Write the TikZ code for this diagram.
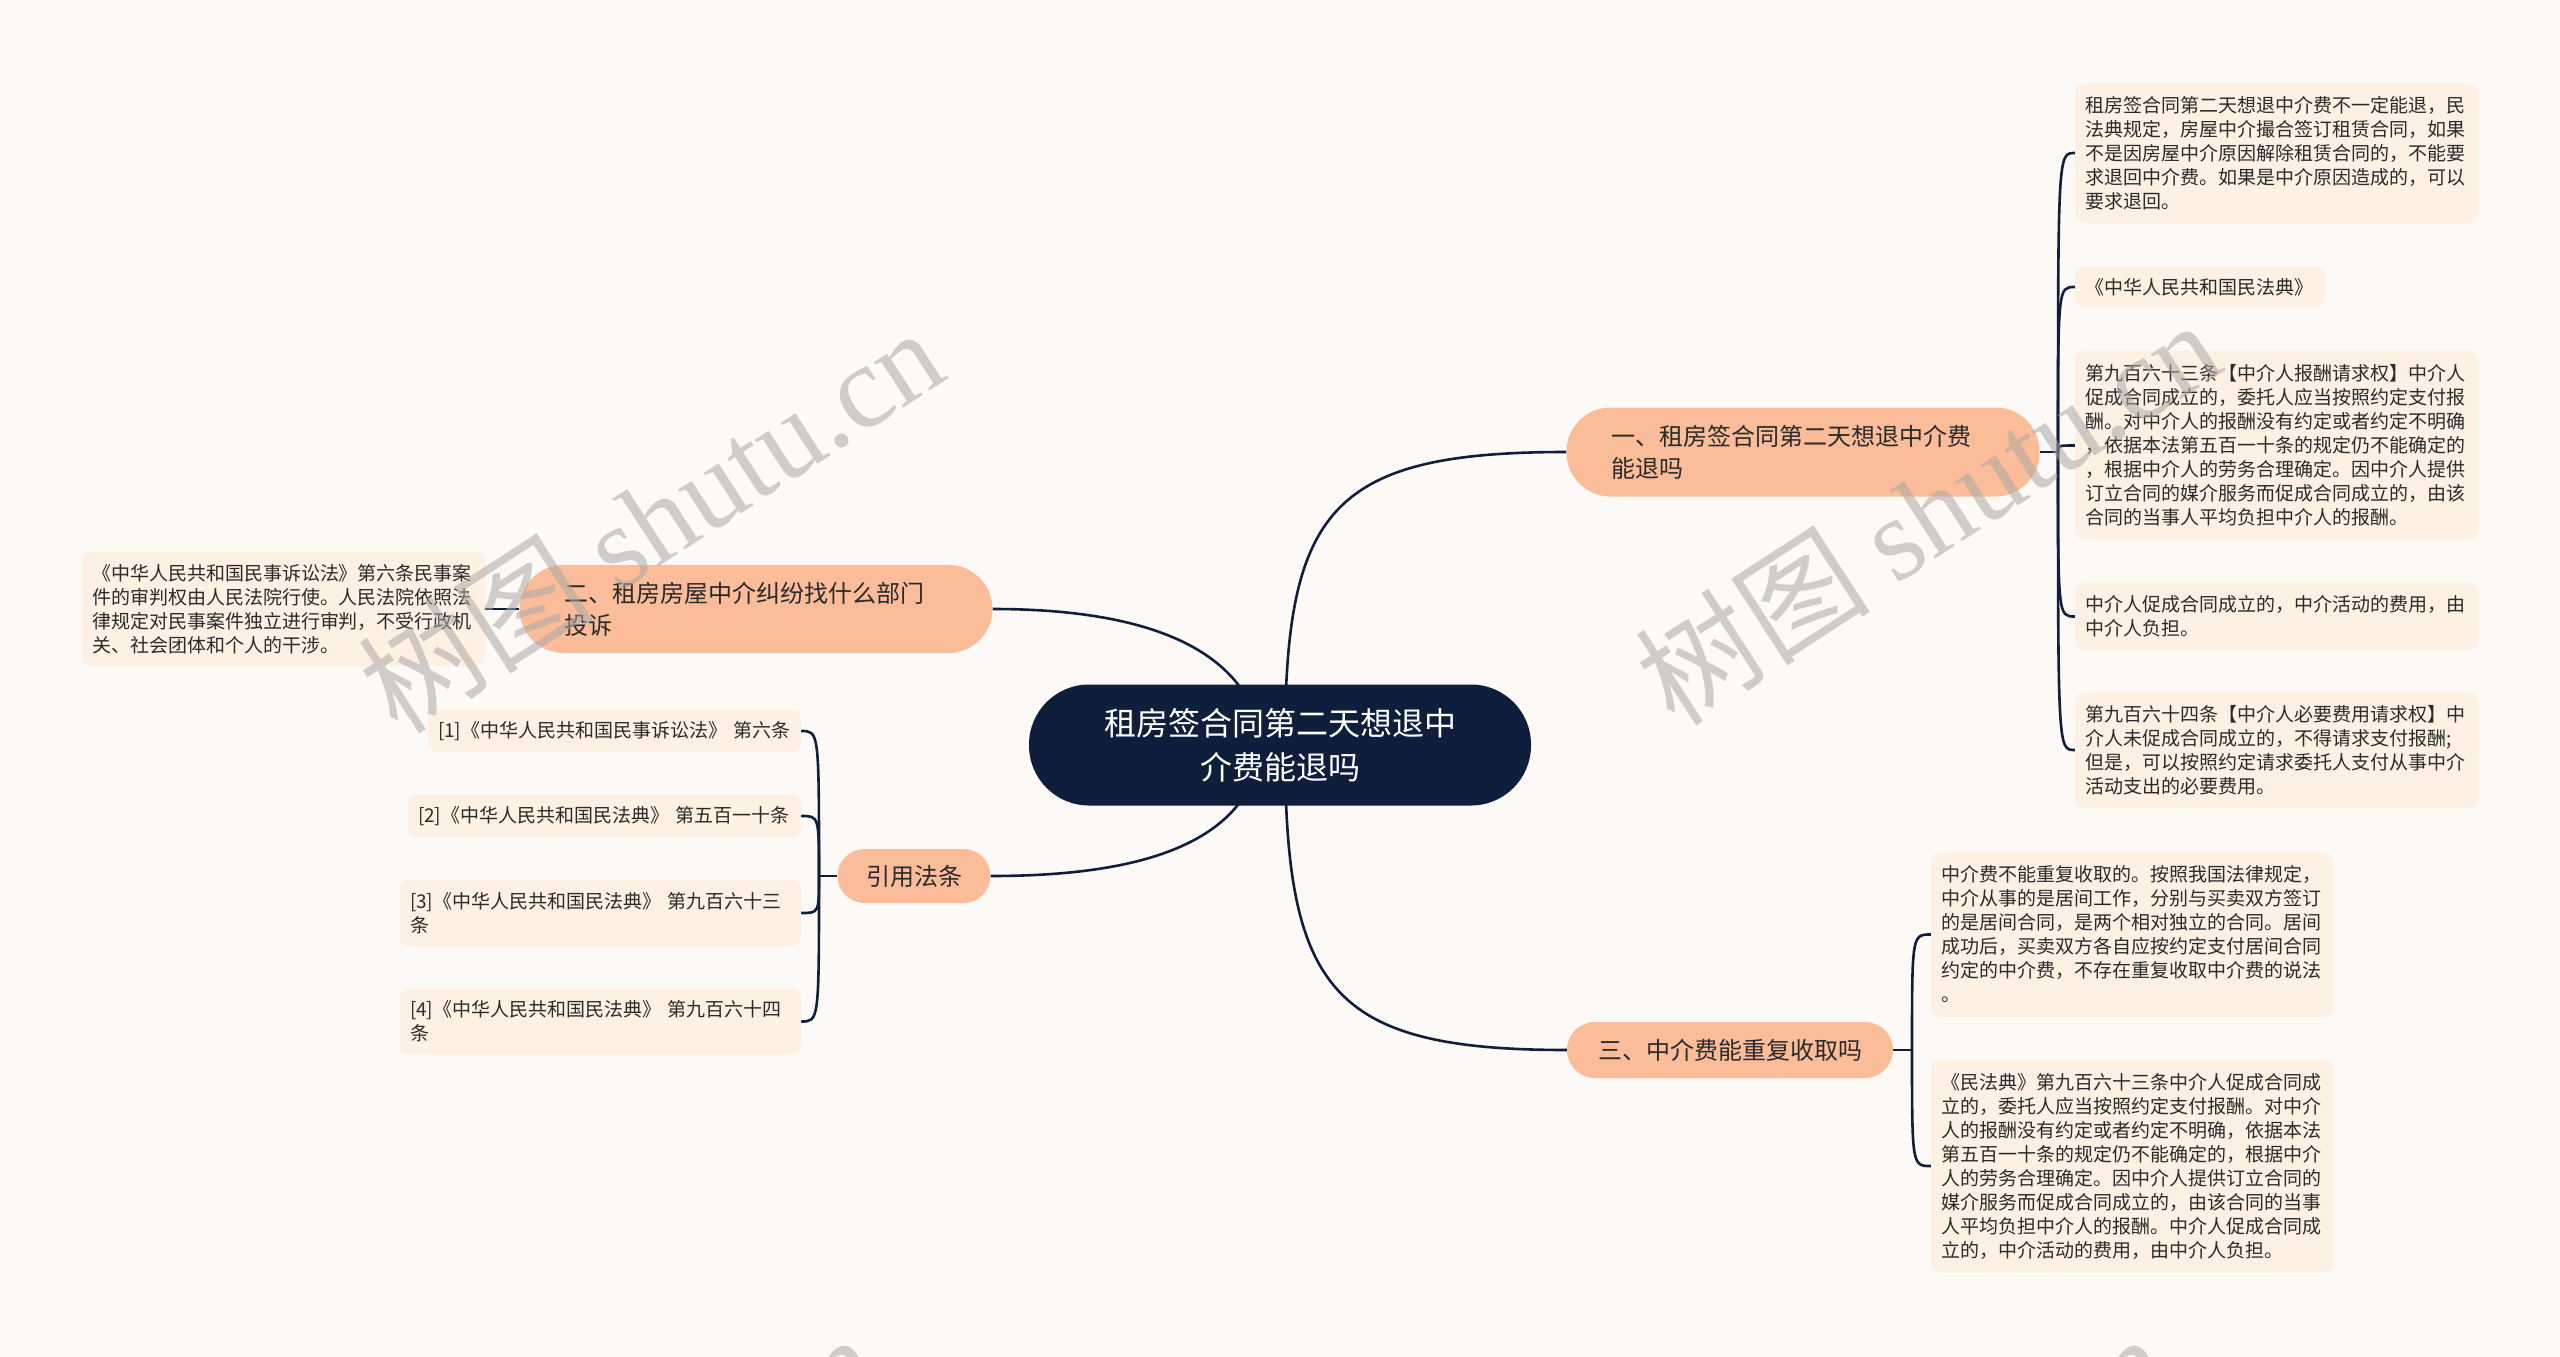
\documentclass[tikz,border=0pt]{standalone}
\usepackage{fontspec}
\setmainfont{Noto Sans CJK SC}
\newfontfamily\wmserif{Liberation Serif}
\usetikzlibrary{backgrounds}
\definecolor{bgc}{HTML}{FDF9F7}
\definecolor{navy}{HTML}{0F1F3B}
\definecolor{peach}{HTML}{FBBC9A}
\definecolor{cream}{HTML}{FEF0E2}
\definecolor{txt}{HTML}{2A2A2A}
\definecolor{wmgray}{HTML}{ABA8A6}
\begin{document}
\begin{tikzpicture}[x=1pt,y=-1pt,
  conn/.style={draw=navy, line width=2.6pt},
  rootbox/.style={fill=navy, rounded corners=60pt, text=white, font=\fontsize{32}{44}\selectfont, align=center, inner sep=0pt, minimum width=502pt, minimum height=121pt},
  branchbox/.style={fill=peach, text=txt, font=\fontsize{24}{32}\selectfont, inner sep=0pt},
  leafbox/.style={fill=cream, rounded corners=9pt, text=txt, font=\fontsize{19}{24}\selectfont, align=left, inner sep=0pt},
  wm/.style={rotate=33, text=wmgray, text opacity=0.55, font=\fontsize{118}{118}\selectfont, inner sep=0pt}
]
\useasboundingbox (0,0) rectangle (2560,1357);

% root
\node[rootbox] (root) at (1280,745) {租房签合同第二天想退中\\介费能退吗};

% branches
\node[branchbox, rounded corners=44pt, minimum width=473pt, minimum height=89pt, text width=383pt, align=left] (b1) at (1803,452) {一、租房签合同第二天想退中介费\\能退吗};
\node[branchbox, rounded corners=44pt, minimum width=473pt, minimum height=88pt, text width=383pt, align=left] (b2) at (756,609) {二、租房房屋中介纠纷找什么部门\\投诉};
\node[branchbox, rounded corners=27pt, minimum width=153pt, minimum height=54pt, align=center] (b3) at (914,876) {引用法条};
\node[branchbox, rounded corners=28pt, minimum width=326pt, minimum height=56pt, align=center] (b4) at (1730,1050) {三、中介费能重复收取吗};

% leaves of b1
\node[leafbox, minimum width=403pt, minimum height=140pt, text width=383pt] (la) at (2276.5,153) {租房签合同第二天想退中介费不一定能退，民\\法典规定，房屋中介撮合签订租赁合同，如果\\不是因房屋中介原因解除租赁合同的，不能要\\求退回中介费。如果是中介原因造成的，可以\\要求退回。};
\node[leafbox, minimum width=250pt, minimum height=41pt, text width=230pt] (lb) at (2200,287) {《中华人民共和国民法典》};
\node[leafbox, minimum width=403pt, minimum height=189pt, text width=383pt] (lc) at (2276.5,445.5) {第九百六十三条【中介人报酬请求权】中介人\\促成合同成立的，委托人应当按照约定支付报\\酬。对中介人的报酬没有约定或者约定不明确\\，依据本法第五百一十条的规定仍不能确定的\\，根据中介人的劳务合理确定。因中介人提供\\订立合同的媒介服务而促成合同成立的，由该\\合同的当事人平均负担中介人的报酬。};
\node[leafbox, minimum width=403pt, minimum height=67pt, text width=383pt] (ld) at (2276.5,616.5) {中介人促成合同成立的，中介活动的费用，由\\中介人负担。};
\node[leafbox, minimum width=403pt, minimum height=116pt, text width=383pt] (le) at (2276.5,750) {第九百六十四条【中介人必要费用请求权】中\\介人未促成合同成立的，不得请求支付报酬;\\但是，可以按照约定请求委托人支付从事中介\\活动支出的必要费用。};

% leaf of b2
\node[leafbox, minimum width=403pt, minimum height=114pt, text width=383pt] (lk) at (283.5,609) {《中华人民共和国民事诉讼法》第六条民事案\\件的审判权由人民法院行使。人民法院依照法\\律规定对民事案件独立进行审判，不受行政机\\关、社会团体和个人的干涉。};

% references
\node[leafbox, minimum width=373pt, minimum height=42pt, text width=353pt] (r1) at (614.5,731) {[1]《中华人民共和国民事诉讼法》 第六条};
\node[leafbox, minimum width=393pt, minimum height=42pt, text width=373pt] (r2) at (604.5,816) {[2]《中华人民共和国民法典》 第五百一十条};
\node[leafbox, minimum width=401pt, minimum height=67pt, text width=381pt] (r3) at (600.5,913) {[3]《中华人民共和国民法典》 第九百六十三\\条};
\node[leafbox, minimum width=401pt, minimum height=66pt, text width=381pt] (r4) at (600.5,1021.5) {[4]《中华人民共和国民法典》 第九百六十四\\条};

% leaves of b4
\node[leafbox, minimum width=402pt, minimum height=165pt, text width=382pt] (lf) at (2132,934.5) {中介费不能重复收取的。按照我国法律规定，\\中介从事的是居间工作，分别与买卖双方签订\\的是居间合同，是两个相对独立的合同。居间\\成功后，买卖双方各自应按约定支付居间合同\\约定的中介费，不存在重复收取中介费的说法\\。};
\node[leafbox, minimum width=402pt, minimum height=213pt, text width=382pt] (lg) at (2132,1166) {《民法典》第九百六十三条中介人促成合同成\\立的，委托人应当按照约定支付报酬。对中介\\人的报酬没有约定或者约定不明确，依据本法\\第五百一十条的规定仍不能确定的，根据中介\\人的劳务合理确定。因中介人提供订立合同的\\媒介服务而促成合同成立的，由该合同的当事\\人平均负担中介人的报酬。中介人促成合同成\\立的，中介活动的费用，由中介人负担。};

% junction coordinates
\coordinate (s1) at (1285,745);
\coordinate (s2) at (1263,745);
\coordinate (j1) at (2058,452);
\coordinate (j2) at (819,876);
\coordinate (j3) at (1912,1050);

\begin{scope}[on background layer]
\fill[bgc] (0,0) rectangle (2560,1357);
\draw[conn] (s1) .. controls (1285,510) and (1330,452) .. (b1.west);
\draw[conn] (s2) .. controls (1250,650) and (1150,609) .. (b2.east);
\draw[conn] (s2) .. controls (1250,840) and (1150,876) .. (b3.east);
\draw[conn] (s1) .. controls (1285,990) and (1330,1050) .. (b4.west);
\draw[conn] (b1.east) -- (j1);
\foreach \n in {la,lb,lc,ld,le}
  \draw[conn] (j1) .. controls (j1 |- \n.west) .. (\n.west);
\draw[conn] (b2.west) -- (lk.east);
\draw[conn] (b3.west) -- (j2);
\foreach \n in {r1,r2,r3,r4}
  \draw[conn] (j2) .. controls (j2 |- \n.east) .. (\n.east);
\draw[conn] (b4.east) -- (j3);
\foreach \n in {lf,lg}
  \draw[conn] (j3) .. controls (j3 |- \n.west) .. (\n.west);
\end{scope}

% watermarks
\begin{scope}
\clip (0,0) rectangle (2560,1357);
\node[wm] (wm1) at (650,519) {树图 {\wmserif shutu.cn}};
\node[wm] (wm2) at (1927,511) {树图 {\wmserif shutu.cn}};
\node[wm] (wm3) at (585,1525) {树图 {\wmserif shutu.cn}};
\node[wm] (wm4) at (1875,1525) {树图 {\wmserif shutu.cn}};
\end{scope}
\end{tikzpicture}
\end{document}
